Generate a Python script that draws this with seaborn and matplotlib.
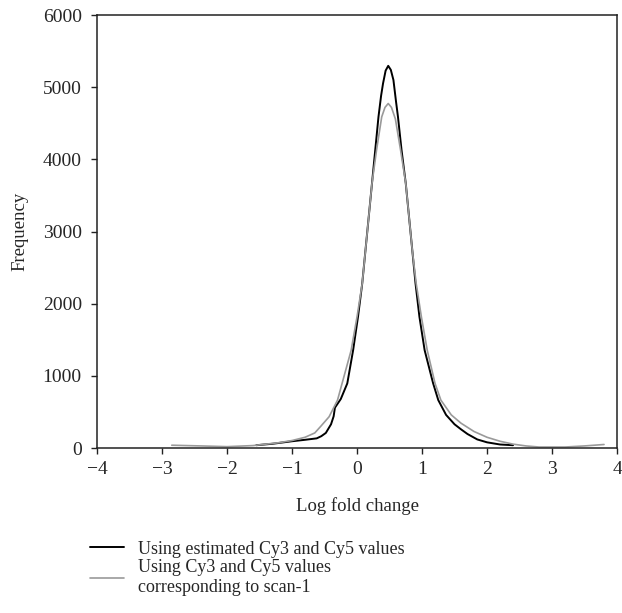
import matplotlib
matplotlib.use("Agg")
import matplotlib.pyplot as plt
import pandas as pd
import seaborn as sns

sns.set_theme(style='white')
plt.rcParams['font.family'] = ['Liberation Serif', 'DejaVu Serif']

# Values
est_x = [-1.55, -1.3, -1.0, -0.8, -0.62, -0.55, -0.48, -0.40, -0.36, -0.34, -0.25, -0.15,
         -0.06, 0.015, 0.08, 0.13, 0.18, 0.23, 0.28, 0.33, 0.37, 0.40, 0.44, 0.48, 0.52,
         0.56, 0.60, 0.63, 0.685, 0.75, 0.80, 0.85, 0.90, 0.96, 1.04, 1.17, 1.25, 1.37,
         1.5, 1.6, 1.7, 1.85, 2.0, 2.2, 2.4]
est_y = [40, 60, 95, 115, 135, 165, 210, 330, 440, 560, 680, 896,
         1357, 1819, 2281, 2742, 3204, 3666, 4128, 4589, 4880, 5051, 5230, 5296, 5240,
         5100, 4800, 4589, 4128, 3666, 3204, 2742, 2281, 1819, 1357, 900, 665, 460,
         330, 260, 195, 120, 80, 50, 40]

scan_x = [-2.85, -2.4, -2.0, -1.6, -1.2, -1.0, -0.8, -0.65, -0.56, -0.43, -0.30, -0.23,
          -0.09, 0.0, 0.08, 0.13, 0.18, 0.23, 0.30, 0.38, 0.43, 0.48, 0.53, 0.59, 0.67,
          0.75, 0.80, 0.85, 0.91, 0.99, 1.08, 1.20, 1.29, 1.45, 1.6, 1.8, 2.0, 2.2,
          2.4, 2.6, 2.8, 3.2, 3.5, 3.8]
scan_y = [40, 30, 20, 35, 75, 105, 150, 210, 300, 434, 665, 896,
          1357, 1819, 2281, 2742, 3204, 3666, 4128, 4589, 4720, 4774, 4720, 4560, 4128,
          3666, 3204, 2742, 2281, 1819, 1357, 896, 665, 460, 345, 230, 150, 95,
          55, 30, 15, 15, 30, 50]

labels = ['Using estimated Cy3 and Cy5 values',
          'Using Cy3 and Cy5 values\ncorresponding to scan-1']

df = pd.concat([
    pd.DataFrame({'x': est_x, 'y': est_y, 'series': labels[0]}),
    pd.DataFrame({'x': scan_x, 'y': scan_y, 'series': labels[1]}),
])

fig = plt.figure(figsize=(6.22, 6.13), dpi=100)
ax = fig.add_axes([0.156, 0.269, 0.836, 0.7065])
sns.lineplot(data=df, x='x', y='y', hue='series', palette=['#000000', '#9a9a9a'],
             sort=False, estimator=None, ax=ax, legend=False)
ax.lines[0].set_linewidth(1.4)
ax.lines[1].set_linewidth(1.2)

ax.set_xlim(-4, 4)
ax.set_ylim(0, 6000)
ax.set_xticks(range(-4, 5))
ax.set_xticklabels([str(v).replace('-', '\u2212') for v in range(-4, 5)])
ax.set_yticks(range(0, 6001, 1000))
ax.tick_params(axis='both', direction='out', length=4, width=1, color='#222222',
               labelsize=14, bottom=True, left=True)
ax.tick_params(axis='y', pad=7)
ax.tick_params(axis='x', pad=5)
for s in ax.spines.values():
    s.set_color('#222222')
    s.set_linewidth(1.1)
ax.set_xlabel('Log fold change', fontsize=13.5, labelpad=14)
ax.set_ylabel('Frequency', fontsize=13.5, labelpad=10)

handles = [plt.Line2D([], [], color='#000000', lw=1.4),
           plt.Line2D([], [], color='#9a9a9a', lw=1.2)]
fig.legend(handles, labels, loc='upper left', bbox_to_anchor=(0.133, 0.13),
           frameon=False, fontsize=13, handlelength=1.9, handletextpad=0.75,
           labelspacing=0.1, borderaxespad=0)

fig.savefig('out.png', dpi=100)
